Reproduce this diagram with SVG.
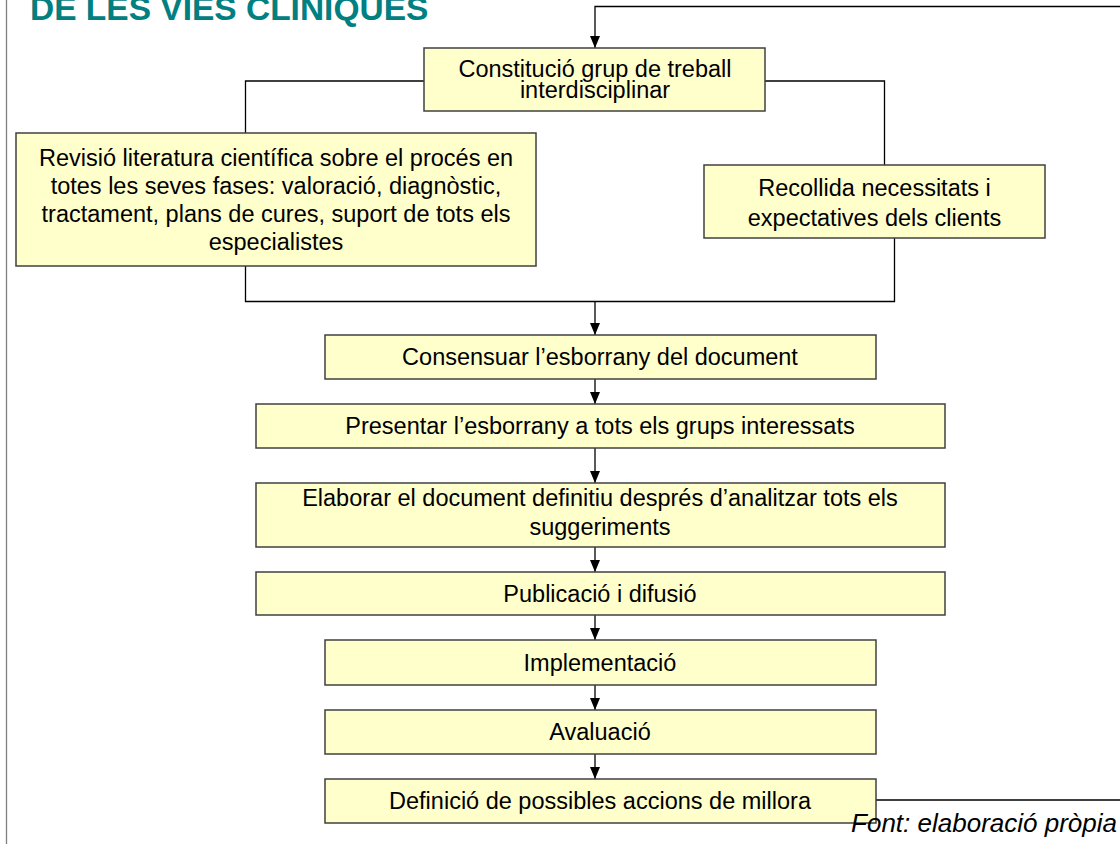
<svg xmlns="http://www.w3.org/2000/svg" width="1120" height="844" viewBox="0 0 1120 844">
  <defs>
    <marker id="arrow" markerUnits="userSpaceOnUse" markerWidth="12" markerHeight="10" refX="12" refY="5" orient="auto">
      <path d="M0,0 L12,5 L0,10 z" fill="#000"/>
    </marker>
    <style>
      .box { fill: #FFFFCC; stroke: #404040; stroke-width: 1.5; }
      .lbl { font-family: "Liberation Sans", Arial, sans-serif; font-size: 23.5px; fill: #000; text-anchor: middle; }
      .wire { fill: none; stroke: #000; stroke-width: 1.3; }
      .title { font-family: "Liberation Sans", Arial, sans-serif; font-size: 33.5px; font-weight: bold; fill: #008080; }
      .src { font-family: "Liberation Sans", Arial, sans-serif; font-size: 26px; font-style: italic; fill: #000; text-anchor: end; }
    </style>
  </defs>

  <rect x="0" y="0" width="1120" height="844" fill="#fff"/>
  <!-- slide frame edge -->
  <line x1="6.5" y1="0" x2="6.5" y2="844" stroke="#808080" stroke-width="1.3"/>

  <text class="title" x="30" y="19.5">DE LES VIES CLINIQUES</text>

  <!-- connectors -->
  <g id="connectors">
    <!-- feedback loop from the last step back to the start -->
    <path class="wire" d="M876,800 H1125 V6.5 H595 V48" marker-end="url(#arrow)"/>
    <!-- split to the two preparatory tasks -->
    <path class="wire" d="M424,81 H245.5 V133"/>
    <path class="wire" d="M765,81 H884.5 V165"/>
    <!-- merge -->
    <path class="wire" d="M245.5,266 V301.5 H894.5 V238"/>
    <path class="wire" d="M595,301.5 V335" marker-end="url(#arrow)"/>
    <path class="wire" d="M595,379 V404" marker-end="url(#arrow)"/>
    <path class="wire" d="M595,448 V483" marker-end="url(#arrow)"/>
    <path class="wire" d="M595,547 V572" marker-end="url(#arrow)"/>
    <path class="wire" d="M595,615 V640" marker-end="url(#arrow)"/>
    <path class="wire" d="M595,685 V710" marker-end="url(#arrow)"/>
    <path class="wire" d="M595,754 V779" marker-end="url(#arrow)"/>
  </g>

  <g id="constitucio">
    <rect class="box" x="424" y="48" width="341" height="63"/>
    <text class="lbl" x="595" y="76.5">Constitució grup de treball</text>
    <text class="lbl" x="595" y="98">interdisciplinar</text>
  </g>

  <g id="revisio">
    <rect class="box" x="16" y="133" width="520" height="133"/>
    <text class="lbl" x="276" y="166">Revisió literatura científica sobre el procés en</text>
    <text class="lbl" x="276" y="194">totes les seves fases: valoració, diagnòstic,</text>
    <text class="lbl" x="276" y="222">tractament, plans de cures, suport de tots els</text>
    <text class="lbl" x="276" y="250">especialistes</text>
  </g>

  <g id="recollida">
    <rect class="box" x="704" y="165" width="341" height="73"/>
    <text class="lbl" x="874.5" y="196">Recollida necessitats i</text>
    <text class="lbl" x="874.5" y="226">expectatives dels clients</text>
  </g>

  <g id="consensuar">
    <rect class="box" x="325" y="335" width="551" height="44"/>
    <text class="lbl" x="600" y="365">Consensuar l’esborrany del document</text>
  </g>

  <g id="presentar">
    <rect class="box" x="256" y="404" width="689" height="44"/>
    <text class="lbl" x="600" y="434">Presentar l’esborrany a tots els grups interessats</text>
  </g>

  <g id="elaborar">
    <rect class="box" x="256" y="483" width="689" height="64"/>
    <text class="lbl" x="600" y="506">Elaborar el document definitiu després d’analitzar tots els</text>
    <text class="lbl" x="600" y="535">suggeriments</text>
  </g>

  <g id="publicacio">
    <rect class="box" x="256" y="572" width="689" height="43"/>
    <text class="lbl" x="600" y="602">Publicació i difusió</text>
  </g>

  <g id="implementacio">
    <rect class="box" x="325" y="640" width="551" height="45"/>
    <text class="lbl" x="600" y="671">Implementació</text>
  </g>

  <g id="avaluacio">
    <rect class="box" x="325" y="710" width="551" height="44"/>
    <text class="lbl" x="600" y="740">Avaluació</text>
  </g>

  <g id="definicio">
    <rect class="box" x="325" y="779" width="551" height="44"/>
    <text class="lbl" x="600" y="809">Definició de possibles accions de millora</text>
  </g>

  <text class="src" x="1117" y="832">Font: elaboració pròpia</text>
</svg>
